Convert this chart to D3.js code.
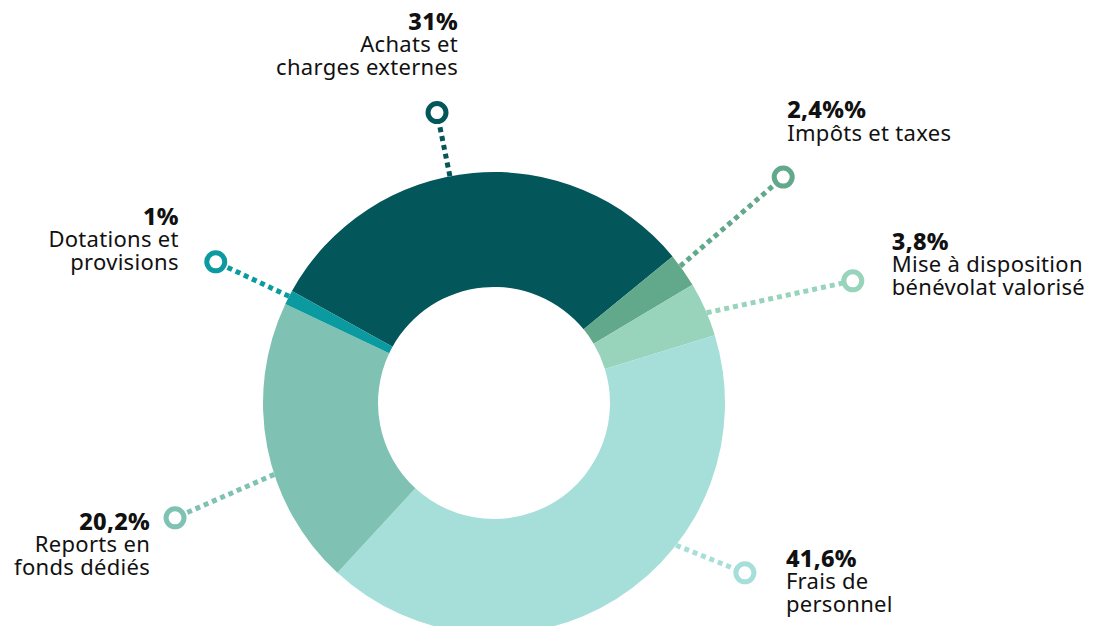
<!DOCTYPE html>
<html>
<head>
<meta charset="utf-8">
<script src="https://cdn.jsdelivr.net/npm/d3@7"></script>
<style>
  body { margin: 0; background: #fff; }
  text { font-family: "Noto Sans", sans-serif; fill: #111; }
</style>
</head>
<body>
<svg id="donut" width="1102" height="626"></svg>
<script>
// data, in drawing order (clockwise from the top-left)
const categories = ["Achats et charges externes", "Impôts et taxes", "Mise à disposition bénévolat valorisé",
  "Frais de personnel", "Reports en fonds dédiés", "Dotations et provisions"];
const values = [31, 2.4, 3.8, 41.6, 20.2, 1];
const valueLabels = ["31%", "2,4%%", "3,8%", "41,6%", "20,2%", "1%"];
const labelLines = [
  ["Achats et", "charges externes"],
  ["Impôts et taxes"],
  ["Mise à disposition", "bénévolat valorisé"],
  ["Frais de", "personnel"],
  ["Reports en", "fonds dédiés"],
  ["Dotations et", "provisions"]
];
const colors = ["#03565a", "#62a88a", "#98d3bb", "#a6dfd9", "#7fc1b2", "#0a9a9f"];

// layout of the leader lines and labels (angles in degrees, clockwise from top)
const leaderLayout = [
  { start: -11, marker: -11.1, dist: 296, dx: 21, dy: -83, anchor: "end" },
  { start: 53.7, marker: 52, dist: 367, dx: 4, dy: -59, anchor: "start" },
  { start: 67, marker: 71.2, dist: 379, dx: 39, dy: -31, anchor: "start" },
  { start: 128, marker: 124.1, dist: 303, dx: 41, dy: -6, anchor: "start" },
  { start: 252, marker: 250.2, dist: 339, dx: -25, dy: 12, anchor: "end" },
  { start: 297.5, marker: 296.9, dist: 312, dx: -37, dy: -37, anchor: "end" }
];

const cx = 494, cy = 403;
const outerR = 231, innerR = 116;
const startOffset = -61 * Math.PI / 180;
const lineGap = 22.5;

const svg = d3.select("#donut");
const g = svg.append("g").attr("transform", `translate(${cx},${cy})`);

const data = categories.map((c, i) => ({ name: c, value: values[i], i }));

const pie = d3.pie()
  .value(d => d.value)
  .sort(null)
  .startAngle(startOffset)
  .endAngle(startOffset + 2 * Math.PI);

const arc = d3.arc().innerRadius(innerR).outerRadius(outerR);

g.selectAll("path.slice")
  .data(pie(data))
  .enter()
  .append("path")
  .attr("class", "slice")
  .attr("d", arc)
  .attr("fill", d => colors[d.data.i]);

const rad = a => a * Math.PI / 180;
const polar = (a, r) => [Math.sin(rad(a)) * r, -Math.cos(rad(a)) * r];

// leader lines, markers and labels
data.forEach((d, i) => {
  const L = leaderLayout[i];
  const p0 = polar(L.start, outerR);
  const p1 = polar(L.marker, L.dist);
  g.append("line")
    .attr("x1", p0[0]).attr("y1", p0[1])
    .attr("x2", p1[0]).attr("y2", p1[1])
    .attr("stroke", colors[i])
    .attr("stroke-width", 5)
    .attr("stroke-dasharray", "5,4");

  g.append("circle")
    .attr("cx", p1[0]).attr("cy", p1[1])
    .attr("r", 9)
    .attr("fill", "#fff")
    .attr("stroke", colors[i])
    .attr("stroke-width", 5);

  const tx = p1[0] + L.dx;
  const ty = p1[1] + L.dy;

  g.append("text")
    .attr("x", tx)
    .attr("y", ty)
    .attr("text-anchor", L.anchor)
    .style("font-size", "23.5px")
    .style("font-weight", "800")
    .style("letter-spacing", "0.3px")
    .text(valueLabels[i]);

  labelLines[i].forEach((line, k) => {
    g.append("text")
      .attr("x", tx)
      .attr("y", ty + lineGap * (k + 1))
      .attr("text-anchor", L.anchor)
      .style("font-size", "22px")
      .style("letter-spacing", "0.3px")
      .text(line);
  });
});
</script>
</body>
</html>
